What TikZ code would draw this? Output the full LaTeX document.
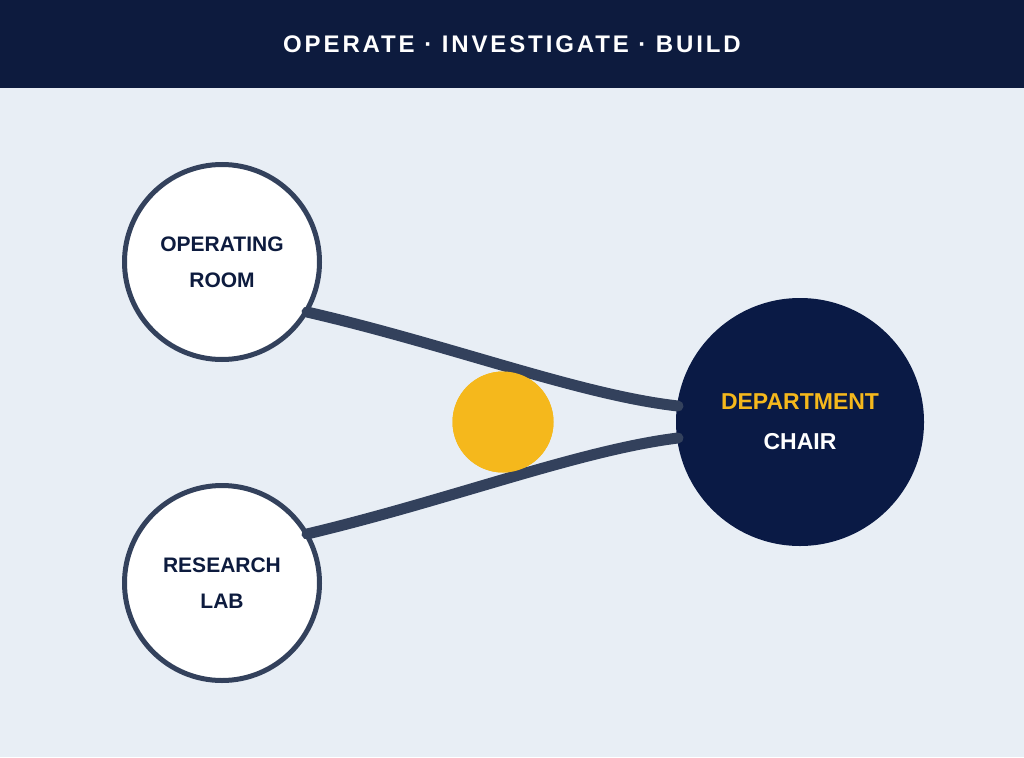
\documentclass[tikz,border=0pt]{standalone}
\usepackage{fontspec}
\setmainfont{Liberation Sans}
\usetikzlibrary{positioning}
\definecolor{navy}{HTML}{0D1B3E}
\definecolor{chairblue}{HTML}{0A1A45}
\definecolor{rim}{HTML}{33415C}
\definecolor{paper}{HTML}{E8EEF5}
\definecolor{gold}{HTML}{F5B81C}
\tikzset{
  place/.style={circle,draw=rim,line width=5pt,fill=white,minimum size=195pt,
    align=center,font=\bfseries\fontsize{21}{36}\selectfont,text=navy},
  link/.style={draw=rim,line width=11pt,line cap=round}
}
\begin{document}
\begin{tikzpicture}[x=1pt,y=-1pt]
  \useasboundingbox (0,0) rectangle (1024,757);
  \fill[paper] (0,0) rectangle (1024,757);
  \fill[navy] (0,0) rectangle (1024,88);
  \node (title) at (512,44) [text=white,font=\bfseries\fontsize{24}{28}\selectfont\addfontfeature{LetterSpace=12}]
    {OPERATE · INVESTIGATE · BUILD};

  \node (oproom) at (222,262) [place] {OPERATING\\ROOM};
  \node (lab) at (222,583) [place] {RESEARCH\\LAB};
  \node (chair) at (800,422) [circle,fill=chairblue,minimum size=248pt,align=center,
    font=\bfseries\fontsize{23}{40}\selectfont,text=white]
    {\textcolor{gold}{DEPARTMENT}\\CHAIR};
  \node (hub) at (503,422) [circle,fill=gold,minimum size=101pt] {};

  \coordinate (oa) at (307,312);
  \coordinate (la) at (307,534);
  \coordinate (ca) at (678,406);
  \coordinate (cb) at (678,438);
  \begin{scope}[on background layer/.try]
  \end{scope}
  \draw[link] (oa) .. controls (450,345) and (580,395) .. (ca);
  \draw[link] (la) .. controls (450,500) and (580,450) .. (cb);
  \node at (503,422) [circle,fill=gold,minimum size=101pt] {};
\end{tikzpicture}
\end{document}
